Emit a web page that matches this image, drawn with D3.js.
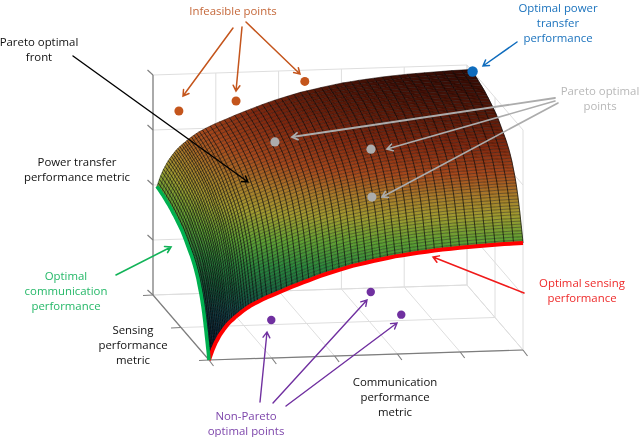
<!DOCTYPE html>
<html>
<head>
<meta charset="utf-8">
<script src="https://cdn.jsdelivr.net/npm/d3@7"></script>
<style>
  html, body { margin: 0; padding: 0; background: #fff; }
  svg { display: block; filter: blur(0.3px); }
  text { font-family: "Open Sans", sans-serif; font-size: 11.4px; text-anchor: middle; }
</style>
</head>
<body>
<div id="plot"></div>
<script>
// communication metric: mesh column positions and the red front read along them
const commGrid = [0,.004,.008,.012,.017,.021,.026,.031,.036,.041,.046,.051,.056,.061,.067,.073,.079,.084,.09,.096,.103,.11,.118,.126,.135,.145,.155,.17,.184,.2,.215,.231,.248,.265,.282,.3,.318,.336,.355,.375,.395,.415,.436,.457,.478,.5,.523,.546,.569,.593,.617,.641,.666,.692,.718,.744,.771,.798,.825,.853,.882,.911,.94,.97,1]
const commCurve = [0,.016,.032,.048,.064,.077,.09,.103,.115,.125,.135,.144,.153,.162,.17,.178,.185,.192,.198,.205,.213,.22,.228,.235,.243,.25,.257,.267,.276,.285,.293,.302,.312,.321,.33,.339,.348,.357,.366,.375,.383,.391,.399,.407,.413,.419,.426,.432,.438,.444,.448,.453,.457,.461,.465,.468,.471,.474,.476,.478,.48,.482,.484,.485,.486]
// sensing metric: mesh row positions and the green front read along them
const senseGrid = [0,.005,.01,.016,.022,.028,.034,.04,.046,.052,.058,.065,.071,.078,.085,.092,.1,.108,.117,.125,.134,.143,.154,.165,.176,.187,.198,.212,.227,.241,.257,.275,.292,.311,.332,.352,.373,.394,.415,.436,.457,.481,.507,.535,.562,.59,.619,.648,.678,.71,.744,.778,.813,.85,.888,.93]
const senseCurve = [0,.013,.026,.039,.05,.064,.076,.088,.1,.114,.126,.138,.15,.163,.175,.188,.2,.213,.225,.236,.247,.258,.269,.28,.291,.302,.313,.323,.334,.344,.354,.363,.372,.381,.389,.397,.405,.414,.422,.43,.437,.445,.451,.458,.464,.47,.476,.481,.487,.492,.496,.5,.505,.508,.511,.514]

const commTicks = [0, .2, .4, .6, .8, 1]
const senseTicks = [0, .5, 1]
const powerTicks = [0, .25, .5, .75, 1]

const infeasible = [[.07, .93, .854], [.252, .93, .891], [.471, .93, .97]]
const paretoPts = [[.299, .5, .83], [.605, .5, .783], [.608, .5, .565]]
const nonPareto = [[.3, .57, 0], [.683, .941, 0], [.717, .587, 0]]
const bestPower = [[1, .9, 1]]

const w = 640, h = 437, ox = 209, oy = 360

// oblique box: every metric moves the point along its own screen direction
const xH = d3.scaleLinear().domain([0, 1]).range([0, 314]),
    xV = d3.scaleLinear().domain([0, 1]).range([0, -10]),
    yH = d3.scaleLinear().domain([0, 1]).range([0, -56]),
    yV = d3.scaleLinear().domain([0, 1]).range([0, -65]),
    zV = d3.scaleLinear().domain([0, 1]).range([0, -220])

const px = (d) => ox + xH(d[0]) + yH(d[1])
const py = (d) => oy + xV(d[0]) + yV(d[1]) + zV(d[2])
const line3 = d3.line().x(px).y(py)

const color = d3.scaleLinear()
  .domain([0, .1, .2, .3, .4, .5, .6, .68, .76, .85, .93, 1])
  .range(["#050f1a", "#0c2b44", "#13464f", "#17613f", "#2a853c", "#5f9f33", "#a09a30", "#a87a2a", "#a5481c", "#80280f", "#571808", "#330a04"])

const svg = d3.select("#plot").append("svg")
  .attr("width", w)
  .attr("height", h)

const seg = (g, a, b, stroke, sw) => g.append("path")
  .attr("d", line3([a, b]))
  .attr("fill", "none")
  .attr("stroke", stroke)
  .attr("stroke-width", sw)

// walls and floor
const box = svg.append("g")
const light = "#dedede"
commTicks.forEach((t) => {
  seg(box, [t, 0, 0], [t, 1, 0], light, 1)
  seg(box, [t, 1, 0], [t, 1, 1], light, 1)
})
senseTicks.forEach((t) => {
  seg(box, [0, t, 0], [1, t, 0], light, 1)
  seg(box, [1, t, 0], [1, t, 1], light, 1)
})
powerTicks.forEach((t) => {
  seg(box, [0, 1, t], [1, 1, t], light, 1)
  seg(box, [1, 0, t], [1, 1, t], light, 1)
})

// surface: height is the sum of the two fronts
const surface = svg.append("g")
const cellPath = (i, j) => {
  const c = (a, b) => [commGrid[a], senseGrid[b], commCurve[a] + senseCurve[b]]
  return line3([c(i, j), c(i + 1, j), c(i + 1, j + 1), c(i, j + 1)]) + "Z"
}
const cellColor = (d) => color((commCurve[d[0]] + commCurve[d[0] + 1] + senseCurve[d[1]] + senseCurve[d[1] + 1]) / 2)
const cells = d3.cross(d3.range(commGrid.length - 1), d3.range(senseGrid.length - 1))
surface.selectAll("path.cell").data(cells).join("path")
  .attr("class", "cell")
  .attr("d", (d) => cellPath(d[0], d[1]))
  .attr("fill", cellColor)
  .attr("stroke", cellColor)
  .attr("stroke-width", .3)

surface.selectAll("path.row").data(senseGrid).join("path")
  .attr("class", "row")
  .attr("d", (s, j) => line3(commGrid.map((c, i) => [c, s, commCurve[i] + senseCurve[j]])))
  .attr("fill", "none")
  .attr("stroke", "#000")
  .attr("stroke-width", .45)
  .attr("stroke-opacity", .85)

surface.selectAll("path.col").data(commGrid).join("path")
  .attr("class", "col")
  .attr("d", (c, i) => line3(senseGrid.map((s, j) => [c, s, commCurve[i] + senseCurve[j]])))
  .attr("fill", "none")
  .attr("stroke", "#000")
  .attr("stroke-width", .8)
  .attr("stroke-opacity", .85)

// front axes drawn last so the lines sit over the walls
const axes = svg.append("g")
const dark = "#7d7d7d"
seg(axes, [0, 1, 0], [0, 1, 1], dark, 1.2)
seg(axes, [0, 0, 0], [0, 1, 0], dark, 1.2)
seg(axes, [0, 0, 0], [1, 0, 0], dark, 1.2)
const tick = (x, y, z, dx, dy) => axes.append("path")
  .attr("d", d3.line()([[px([x, y, z]), py([x, y, z])], [px([x, y, z]) + dx, py([x, y, z]) + dy]]))
  .attr("stroke", dark)
  .attr("stroke-width", 1.1)
commTicks.forEach((t) => tick(t, 0, 0, 4.5, 6))
senseTicks.forEach((t) => tick(0, t, 0, -10, 0.5))
powerTicks.forEach((t) => tick(0, 1, t, -5.5, -5))

// the two optimal edges
svg.append("path")
  .attr("d", line3(commGrid.map((c, i) => [c, 0, commCurve[i]])))
  .attr("fill", "none").attr("stroke", "#ff0000").attr("stroke-width", 4)
svg.append("path")
  .attr("d", line3(senseGrid.map((s, j) => [0, s, senseCurve[j]])))
  .attr("fill", "none").attr("stroke", "#00b050").attr("stroke-width", 3.6)

const orange = "#c4551c", blue = "#0f6cbd", grey = "#acacac", purple = "#7030a0",
    green = "#12b358", red = "#f01a1a"

// arrows [x1, y1, x2, y2, colour, width]
const arrowSpecs = [
  [233, 28, 183, 96, orange, 1.5], [242, 27, 236, 91, orange, 1.5], [246, 22, 300, 74, orange, 1.5],
  [73, 56, 248, 182, "#000", 1.4],
  [517, 42, 483, 66, blue, 1.5],
  [555, 98, 292, 137, grey, 1.8], [555, 101, 387, 149, grey, 1.6], [558, 103, 382, 197, grey, 1.6],
  [116, 275, 171, 247, green, 1.6],
  [524, 293, 433, 257, red, 1.5],
  [260, 402, 267, 332, purple, 1.4], [273, 403, 367, 300, purple, 1.4], [286, 406, 397, 323, purple, 1.4]
]
const arrows = svg.append("g").attr("fill", "none").attr("stroke-linecap", "round")
arrowSpecs.forEach(([x1, y1, x2, y2, c, sw]) => {
  const a = Math.atan2(y2 - y1, x2 - x1), len = 6.5, spread = .55
  arrows.append("path")
    .attr("d", `M${x1},${y1}L${x2},${y2}M${x2 - len * Math.cos(a - spread)},${y2 - len * Math.sin(a - spread)}L${x2},${y2}L${x2 - len * Math.cos(a + spread)},${y2 - len * Math.sin(a + spread)}`)
    .attr("stroke", c)
    .attr("stroke-width", sw)
})

// dots
const dots = (data, c, r) => svg.append("g").selectAll("circle").data(data).join("circle")
  .attr("cx", px).attr("cy", py).attr("r", r).attr("fill", c)
dots(infeasible, orange, 4.5)
dots(paretoPts, grey, 4.6)
dots(nonPareto, purple, 4.2)
dots(bestPower, blue, 5.2)

// labels [centre x, baseline y, colour, lines]
const labels = [
  [233, 15, "#c5683a", ["Infeasible points"]],
  [39, 46, "#111", ["Pareto optimal", "front"]],
  [558, 12, "#1a72bd", ["Optimal power", "transfer", "performance"]],
  [600, 95, "#b8b8b8", ["Pareto optimal", "points"]],
  [77, 166, "#111", ["Power transfer", "performance metric"]],
  [66, 280, "#25b868", ["Optimal", "communication", "performance"]],
  [133, 334, "#111", ["Sensing", "performance", "metric"]],
  [582, 287, "#ee2a2a", ["Optimal sensing", "performance"]],
  [246, 420, "#7d45ab", ["Non-Pareto", "optimal points"]],
  [395, 386, "#111", ["Communication", "performance", "metric"]]
]
labels.forEach(([x, y, c, lines]) => {
  svg.append("text")
    .attr("fill", c)
    .selectAll("tspan").data(lines).join("tspan")
    .attr("x", x)
    .attr("y", (d, i) => y + i * 15)
    .text((d) => d)
})
</script>
</body>
</html>
